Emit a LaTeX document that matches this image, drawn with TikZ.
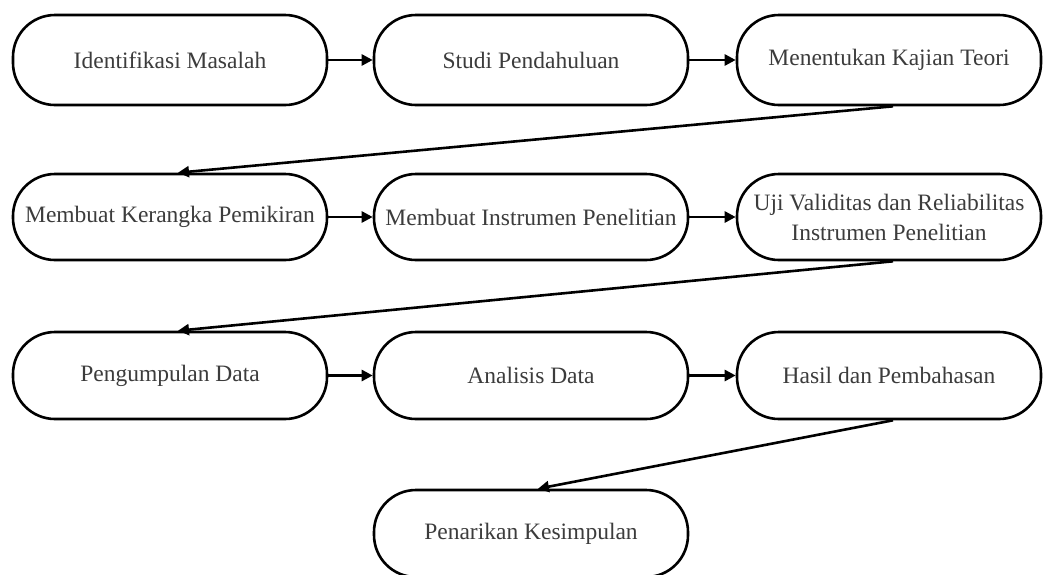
\documentclass[tikz,border=0pt]{standalone}
\usepackage{fontspec}
\setmainfont{Liberation Serif}
\usetikzlibrary{arrows.meta,calc}
\definecolor{txt}{HTML}{3C3C3C}
\tikzset{
  stepbox/.style={draw=black, line width=2.6pt, rounded corners=42pt, fill=white,
    inner sep=0pt, align=center, text=txt,
    font=\fontsize{23.5}{30}\selectfont},
  flow/.style={line width=2.6pt, -{Triangle[length=11pt,width=11pt]}}
}
\begin{document}
\begin{tikzpicture}[x=1pt,y=-1pt]
\useasboundingbox (0,0) rectangle (1043,574);
% row 1
\node[stepbox, minimum width=314pt, minimum height=90pt] (a1) at (170,60) {Identifikasi Masalah};
\node[stepbox, minimum width=314pt, minimum height=90pt] (a2) at (531,60) {Studi Pendahuluan};
\node[stepbox, minimum width=304pt, minimum height=90pt] (a3) at (889,60) {Menentukan Kajian Teori};
% row 2
\node[stepbox, minimum width=314pt, minimum height=86pt] (b1) at (170,217) {Membuat Kerangka Pemikiran};
\node[stepbox, minimum width=314pt, minimum height=86pt] (b2) at (531,217) {Membuat Instrumen Penelitian};
\node[stepbox, minimum width=304pt, minimum height=86pt] (b3) at (889,217) {Uji Validitas dan Reliabilitas\\Instrumen Penelitian};
% row 3
\node[stepbox, minimum width=314pt, minimum height=87pt] (c1) at (170,375.5) {Pengumpulan Data};
\node[stepbox, minimum width=314pt, minimum height=87pt] (c2) at (531,375.5) {Analisis Data};
\node[stepbox, minimum width=304pt, minimum height=87pt] (c3) at (889,375.5) {Hasil dan Pembahasan};
% row 4
\node[stepbox, minimum width=314pt, minimum height=87pt] (d2) at (531,533.5) {Penarikan Kesimpulan};
% horizontal connectors
\draw[flow] (a1) -- (a2);
\draw[flow] (a2) -- (a3);
\draw[flow] (b1) -- (b2);
\draw[flow] (b2) -- (b3);
\draw[flow] (c1) -- (c2);
\draw[flow] (c2) -- (c3);
% diagonal connectors
\draw[flow] ($(a3.south)+(4,0)$) -- ($(b1.north)+(8,0)$);
\draw[flow] ($(b3.south)+(4,0)$) -- ($(c1.north)+(8,0)$);
\draw[flow] ($(c3.south)+(4,0)$) -- ($(d2.north)+(7,0)$);
\end{tikzpicture}
\end{document}
